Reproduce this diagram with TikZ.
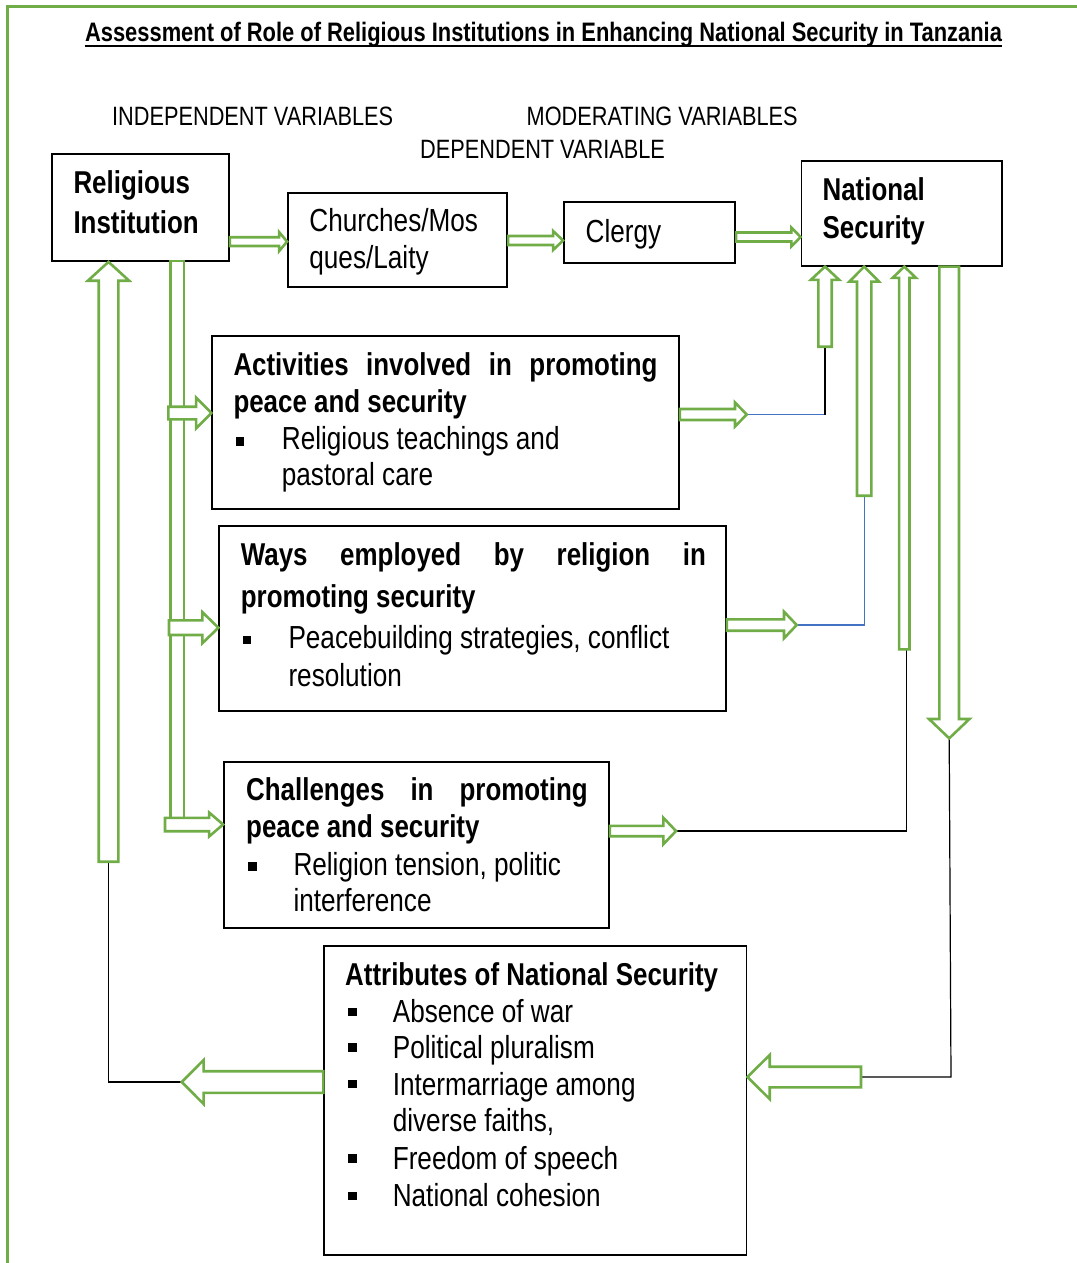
\documentclass[tikz,border=0pt]{standalone}
\usepackage{fontspec}
\setmainfont{Liberation Sans}[FakeStretch=0.82]
\usetikzlibrary{calc}

\definecolor{gr}{HTML}{70AD47}
\definecolor{bl}{HTML}{4472C4}

\tikzset{
  box/.style={draw=black, line width=1.8pt, fill=white, inner sep=0pt},
  lbl/.style={font=\fontsize{26.5}{30}\selectfont, inner sep=0pt, anchor=base west},
  bt/.style={font=\bfseries\fontsize{31.6}{36}\selectfont, inner sep=0pt, anchor=base west},
  rt/.style={font=\fontsize{31.9}{36}\selectfont, inner sep=0pt, anchor=base west},
  sq/.style={fill=black, draw=none, inner sep=0pt, minimum width=8.8pt, minimum height=8.4pt},
  garrow/.style={draw=gr, line width=2.6pt, fill=white, line join=miter},
  frame/.style={draw=gr, line width=2.8pt},
  thinline/.style={draw=black, line width=1.2pt},
  blueline/.style={draw=bl, line width=1.2pt}
}

% rectangular box from (x1,y1) to (x2,y2), y measured downwards
\newcommand{\mkbox}[5]{\node[box, minimum width={(#4-#2)*1pt}, minimum height={(#5-#3)*1pt}] (#1) at ({(#2+#4)/2},{(#3+#5)/2}) {};}

% hollow block arrows: #1 tail point, #2 tip, #3 shaft half width, #4 head half width, #5 head length
\newcommand{\blkR}[5]{\path[garrow] let \p1=(#1), \p2=(#2) in
  (\x1,\y2+#3) -- (\x2-#5,\y2+#3) -- (\x2-#5,\y2+#4) -- (\x2,\y2) -- (\x2-#5,\y2-#4) -- (\x2-#5,\y2-#3) -- (\x1,\y2-#3) -- cycle;}
\newcommand{\blkL}[5]{\path[garrow] let \p1=(#1), \p2=(#2) in
  (\x1,\y2+#3) -- (\x2+#5,\y2+#3) -- (\x2+#5,\y2+#4) -- (\x2,\y2) -- (\x2+#5,\y2-#4) -- (\x2+#5,\y2-#3) -- (\x1,\y2-#3) -- cycle;}
\newcommand{\blkU}[5]{\path[garrow] let \p1=(#1), \p2=(#2) in
  (\x2-#3,\y1) -- (\x2-#3,\y2-#5) -- (\x2-#4,\y2-#5) -- (\x2,\y2) -- (\x2+#4,\y2-#5) -- (\x2+#3,\y2-#5) -- (\x2+#3,\y1) -- cycle;}
\newcommand{\blkD}[5]{\path[garrow] let \p1=(#1), \p2=(#2) in
  (\x2-#3,\y1) -- (\x2-#3,\y2+#5) -- (\x2-#4,\y2+#5) -- (\x2,\y2) -- (\x2+#4,\y2+#5) -- (\x2+#3,\y2+#5) -- (\x2+#3,\y1) -- cycle;}

\begin{document}
\begin{tikzpicture}[x=1pt,y=-1pt]
\useasboundingbox (0,0) rectangle (1076,1263);

% page frame
\draw[frame] (7.6,1270) -- (7.6,6.7) -- (1080,6.7);

% title
\node[font=\bfseries\fontsize{26.7}{30}\selectfont, inner sep=0pt, anchor=base] (title) at (543.5,41.7)
  {Assessment of Role of Religious Institutions in Enhancing National Security in Tanzania};
\draw[line width=1.8pt] ([yshift=-4pt]title.base west) -- ([yshift=-4pt]title.base east);

% column headings
\node[lbl] (indep) at (112,125) {INDEPENDENT VARIABLES};
\node[lbl] (moder) at (526.5,125) {MODERATING VARIABLES};
\node[lbl] (depv) at (420,158.3) {DEPENDENT VARIABLE};

% boxes
\mkbox{rel}{52}{154}{229}{261}
\mkbox{chur}{288}{192.7}{507.2}{286.7}
\mkbox{cler}{564}{202}{735.2}{262.7}
\mkbox{ns}{801.5}{161}{1002}{265.7}
\mkbox{act}{212.3}{336}{679}{509.3}
\mkbox{ways}{219.3}{526}{726}{710.7}
\mkbox{chal}{224}{762.3}{609}{927.7}
\mkbox{attr}{324.3}{946}{746.5}{1255}

% junction points
\coordinate (u0foot) at (108.5,861.7);
\coordinate (u1foot) at (825,346.7);
\coordinate (u2foot) at (864.2,495.7);
\coordinate (u3foot) at (904.3,649.3);
\coordinate (a4tip) at (746.7,414.5);
\coordinate (a5tip) at (796.7,625);
\coordinate (a6tip) at (676,831);
\coordinate (d4tip) at (949.2,738.3);
\coordinate (a11end) at (861,1077);
\coordinate (a12tip) at (181.8,1082);
\coordinate (j4) at (825,414.5);
\coordinate (j5) at (864.2,625);
\coordinate (j6) at (906.5,831);
\coordinate (j6b) at (906.5,649.3);
\coordinate (j10) at (951,1077);
\coordinate (j12) at (108.5,1082);

% thin connectors
\draw[blueline] (a4tip) -- (j4);
\draw[thinline] (j4) -- (u1foot);
\draw[blueline] (a5tip) -- (j5) -- (u2foot);
\draw[thinline] (a6tip) -- (j6) -- (j6b);
\draw[thinline] (d4tip) -- (j10) -- (a11end);
\draw[thinline] (a12tip) -- (j12) -- (u0foot);

% distribution bus below the religious institution
\node[garrow, inner sep=0pt, minimum width=13.5pt, minimum height=563pt] (bus) at (177.25,542.5) {};

% branch arrows off the bus
\blkR{168.3,413}{act.west |- 0,413}{6.3}{15.5}{15.3}
\blkR{169,627.7}{ways.west |- 0,627.7}{7.3}{15.5}{16}
\blkR{165,824.5}{chal.west |- 0,824.5}{6.7}{12}{14}

% main chain
\blkR{rel.east}{chur.west |- 0,241.6}{4.4}{9.5}{8}
\blkR{chur.east}{cler.west |- 0,240.5}{4.5}{9.5}{10}
\blkR{cler.east}{ns.west |- 0,237}{4.5}{9.5}{9.3}

% into the right-hand links
\blkR{act.east |- a4tip}{a4tip}{5.5}{12}{11.7}
\blkR{ways.east |- a5tip}{a5tip}{5.7}{13.3}{12.7}
\blkR{chal.east |- a6tip}{a6tip}{5.2}{13.3}{12.7}

% up into national security
\blkU{u1foot}{u1foot |- ns.south}{6.7}{14.2}{13.3}
\blkU{u2foot}{u2foot |- ns.south}{7.2}{14.8}{15}
\blkU{u3foot}{u3foot |- ns.south}{5.2}{11.7}{11.3}

% down from national security
\blkD{d4tip |- ns.south}{d4tip}{9.8}{20.2}{19.3}

% feedback loop through the attributes
\blkL{a11end}{attr.east |- a11end}{10.3}{22}{22.3}
\blkL{attr.west |- a12tip}{a12tip}{10.8}{22}{21.8}
\blkU{u0foot}{u0foot |- rel.south}{9.8}{20.6}{18.8}

% box texts
\node[bt] (relA) at (73.3,193.3) {Religious};
\node[bt] (relB) at (73.3,233.3) {Institution};
\node[rt] (churA) at (309.2,231.7) {Churches/Mos};
\node[rt] (churB) at (309.2,268.3) {ques/Laity};
\node[rt] (clerA) at (585.5,242.7) {Clergy};
\node[bt] (nsA) at (822.4,200) {National};
\node[bt] (nsB) at (822.4,238.3) {Security};

\node[bt] (actA) at (233.3,375.7) {\hbox to 424pt{Activities\hfill involved\hfill in\hfill promoting}};
\node[bt] (actB) at (233.3,412.3) {peace and security};
\node[sq] (actS) at (240,441.3) {};
\node[rt] (actC) at (281.7,449.3) {Religious teachings and};
\node[rt] (actD) at (281.7,485) {pastoral care};

\node[bt] (wayA) at (240.7,565.7) {\hbox to 465pt{Ways\hfill employed\hfill by\hfill religion\hfill in}};
\node[bt] (wayB) at (240.7,607.5) {promoting security};
\node[sq] (wayS) at (247,640) {};
\node[rt] (wayC) at (288.3,648.3) {Peacebuilding strategies, conflict};
\node[rt] (wayD) at (288.3,686.7) {resolution};

\node[bt] (chA) at (246,800.7) {\hbox to 341.5pt{Challenges\hfill in\hfill promoting}};
\node[bt] (chB) at (246,837.3) {peace and security};
\node[sq] (chS) at (252.5,866.3) {};
\node[rt] (chC) at (293.3,875) {Religion tension, politic};
\node[rt] (chD) at (293.3,911.7) {interference};

\node[bt] (atT) at (345,985) {Attributes of National Security};
\node[sq] (atS1) at (352.5,1011.7) {};
\node[rt] (at1) at (392.6,1022.7) {Absence of war};
\node[sq] (atS2) at (352.5,1047.3) {};
\node[rt] (at2) at (392.6,1058.3) {Political pluralism};
\node[sq] (atS3) at (352.5,1084) {};
\node[rt] (at3) at (392.6,1095) {Intermarriage among};
\node[rt] (at3b) at (392.6,1131.7) {diverse faiths,};
\node[sq] (atS4) at (352.5,1158.3) {};
\node[rt] (at4) at (392.6,1169.3) {Freedom of speech};
\node[sq] (atS5) at (352.5,1195.7) {};
\node[rt] (at5) at (392.6,1206.7) {National cohesion};
\end{tikzpicture}
\end{document}
